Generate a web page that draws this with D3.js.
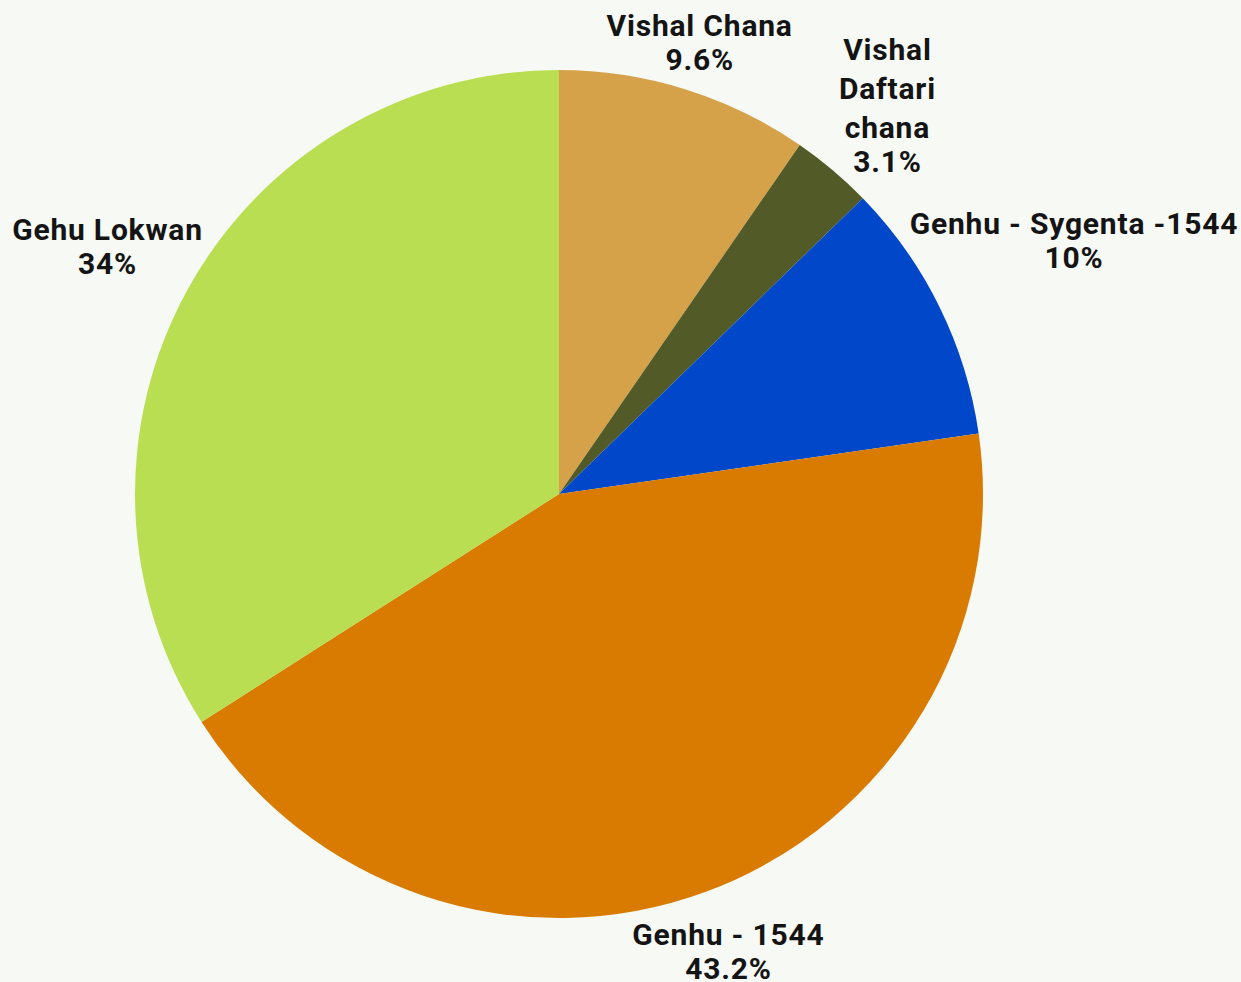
<!DOCTYPE html>
<html>
<head>
<meta charset="utf-8">
<script src="https://cdn.jsdelivr.net/npm/d3@7"></script>
<style>
  html, body { margin: 0; padding: 0; background: #f7f9f4; }
  svg { display: block; }
  .label { font-family: Roboto, sans-serif; font-weight: 700; font-size: 30px; letter-spacing: 0.8px; fill: #141414; }
</style>
</head>
<body>
<svg id="chart" width="1241" height="982"></svg>
<script>
// slices, clockwise from 12 o'clock
const names = ['Vishal Chana', 'Vishal Daftari chana', 'Genhu - Sygenta -1544', 'Genhu - 1544', 'Gehu Lokwan'];
const values = [9.6, 3.1, 10, 43.2, 34];
const valueLabels = ['9.6%', '3.1%', '10%', '43.2%', '34%'];
const nameLines = [['Vishal Chana'], ['Vishal', 'Daftari', 'chana'], ['Genhu - Sygenta -1544'], ['Genhu - 1544'], ['Gehu Lokwan']];
const colors = ['#d5a24a', '#525b27', '#0048c9', '#d97b00', '#b9de51'];

// layout
const cx = 559, cy = 494, radius = 424;
const labelDist = [473, 509, 574, 487, 515];   // distance of label centre from pie centre
const nameStep = 39, valueStep = 34;

const svg = d3.select('#chart');
const g = svg.append('g').attr('transform', 'translate(' + cx + ',' + cy + ')');

const pie = d3.pie().sort(null).value(d => d.value);
const arc = d3.arc().innerRadius(0).outerRadius(radius);

const data = names.map((n, i) => ({ name: n, value: values[i], label: valueLabels[i], lines: nameLines[i], color: colors[i] }));
const arcs = pie(data);

g.selectAll('path.slice')
  .data(arcs)
  .enter().append('path')
  .attr('class', 'slice')
  .attr('d', arc)
  .attr('fill', d => d.data.color);

// labels, centred on each slice's mid angle
arcs.forEach((d, i) => {
  const mid = (d.startAngle + d.endAngle) / 2;
  const x = Math.sin(mid) * labelDist[i];
  const y = -Math.cos(mid) * labelDist[i];
  const lines = d.data.lines;
  const total = (lines.length - 1) * nameStep + valueStep;
  const top = y - total / 2;
  const t = g.append('text')
    .attr('class', 'label')
    .attr('text-anchor', 'middle')
    .attr('dominant-baseline', 'central');
  lines.forEach((ln, k) => {
    t.append('tspan').attr('x', x).attr('y', top + k * nameStep).text(ln);
  });
  t.append('tspan').attr('x', x).attr('y', top + (lines.length - 1) * nameStep + valueStep).text(d.data.label);
});
</script>
</body>
</html>
